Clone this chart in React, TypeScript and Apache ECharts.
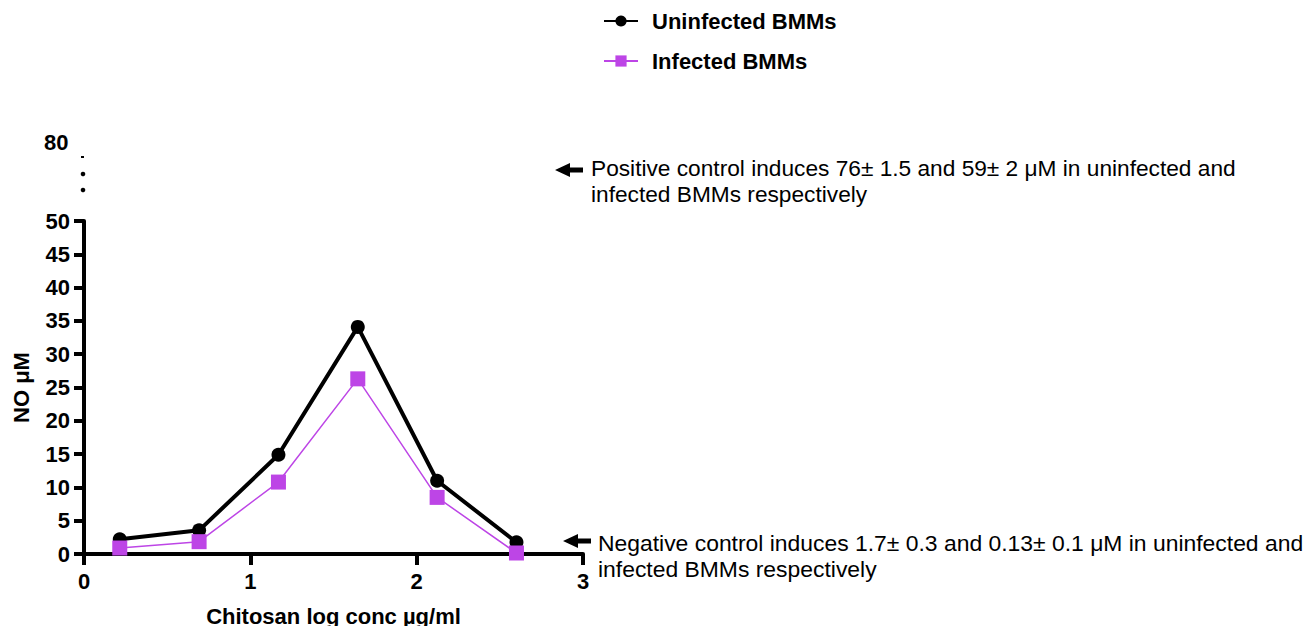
import React, { useEffect, useRef } from "react";
import * as echarts from "echarts";

const logConc = [0.215, 0.692, 1.169, 1.646, 2.123, 2.6];
const uninfected = [2.2, 3.55, 14.9, 34.1, 11.0, 1.75];
const infected = [0.9, 1.85, 10.8, 26.3, 8.5, 0.15];
const seriesNames = ["Uninfected BMMs", "Infected BMMs"];
const brokenTopLabel = "80";
const positiveNote = ["Positive control induces 76\u00b1 1.5 and 59\u00b1 2 \u03bcM in uninfected and", "infected BMMs respectively"];
const negativeNote = ["Negative control induces 1.7\u00b1 0.3 and 0.13\u00b1 0.1 \u03bcM in uninfected and", "infected BMMs respectively"];

const FONT = "'Liberation Sans', Arial, sans-serif";
const PURPLE = "#bd45e6";

export default function App() {
  const ref = useRef<HTMLDivElement>(null);
  useEffect(() => {
    if (!ref.current) return;
    const chart = echarts.init(ref.current, undefined, { renderer: "svg" });
    const arrow = (tipX: number, y: number) => ({
      type: "polygon",
      shape: {
        points: [
          [tipX, y],
          [tipX + 15, y - 7],
          [tipX + 15, y - 2.5],
          [tipX + 28, y - 2.5],
          [tipX + 28, y + 2.5],
          [tipX + 15, y + 2.5],
          [tipX + 15, y + 7],
        ],
      },
      style: { fill: "#000" },
    });
    chart.setOption({
      animation: false,
      backgroundColor: "#fff",
      textStyle: { fontFamily: FONT },
      grid: { left: 84, right: 730, top: 221, bottom: 80, containLabel: false },
      legend: {
        orient: "vertical",
        left: 598,
        top: 5,
        itemWidth: 34,
        itemHeight: 14,
        itemGap: 18,
        data: seriesNames,
        textStyle: { fontFamily: FONT, fontWeight: "bold", fontSize: 22, color: "#000", padding: [0, 0, 0, 9] },
      },
      xAxis: {
        type: "value",
        min: 0,
        max: 3,
        interval: 1,
        name: "Chitosan log conc \u00b5g/ml",
        nameLocation: "middle",
        nameGap: 51,
        nameTextStyle: { fontFamily: FONT, fontWeight: "bold", fontSize: 22, color: "#000" },
        axisLine: { lineStyle: { color: "#000", width: 4 } },
        axisTick: { length: 11, lineStyle: { color: "#000", width: 4 } },
        axisLabel: { fontFamily: FONT, fontWeight: "bold", fontSize: 22, color: "#000", margin: 16 },
        splitLine: { show: false },
      },
      yAxis: {
        type: "value",
        min: 0,
        max: 50,
        interval: 5,
        name: "NO \u03bcM",
        nameLocation: "middle",
        nameGap: 52,
        nameTextStyle: { fontFamily: FONT, fontWeight: "bold", fontSize: 22, color: "#000" },
        axisLine: { show: true, lineStyle: { color: "#000", width: 4 } },
        axisTick: { show: true, length: 10, lineStyle: { color: "#000", width: 4 } },
        axisLabel: { fontFamily: FONT, fontWeight: "bold", fontSize: 22, color: "#000", margin: 14 },
        splitLine: { show: false },
      },
      series: [
        {
          name: seriesNames[0],
          type: "line",
          data: logConc.map((x, i) => [x, uninfected[i]]),
          symbol: "circle",
          symbolSize: 14,
          itemStyle: { color: "#000" },
          lineStyle: { color: "#000", width: 4 },
          z: 3,
        },
        {
          name: seriesNames[1],
          type: "line",
          data: logConc.map((x, i) => [x, infected[i]]),
          symbol: "rect",
          symbolSize: 15,
          itemStyle: { color: PURPLE },
          lineStyle: { color: PURPLE, width: 1.5 },
          z: 4,
        },
      ],
      graphic: [
        {
          type: "text",
          left: 44,
          top: 131,
          style: { text: brokenTopLabel, font: `bold 22px ${FONT}`, fill: "#000" },
        },
        { type: "rect", shape: { x: 81, y: 156, width: 3, height: 2 }, style: { fill: "#000" } },
        { type: "circle", shape: { cx: 83, cy: 174, r: 2.3 }, style: { fill: "#000" } },
        { type: "circle", shape: { cx: 83, cy: 190, r: 2.3 }, style: { fill: "#000" } },
        arrow(555, 170),
        {
          type: "text",
          left: 591,
          top: 155,
          style: { text: positiveNote.join("\n"), font: `22.7px ${FONT}`, fill: "#000", lineHeight: 26 },
        },
        arrow(563, 541),
        {
          type: "text",
          left: 598,
          top: 530,
          style: { text: negativeNote.join("\n"), font: `22.9px ${FONT}`, fill: "#000", lineHeight: 26 },
        },
      ],
    });
    return () => chart.dispose();
  }, []);
  return <div ref={ref} style={{ width: 1313, height: 634, margin: -8 }} />;
}
